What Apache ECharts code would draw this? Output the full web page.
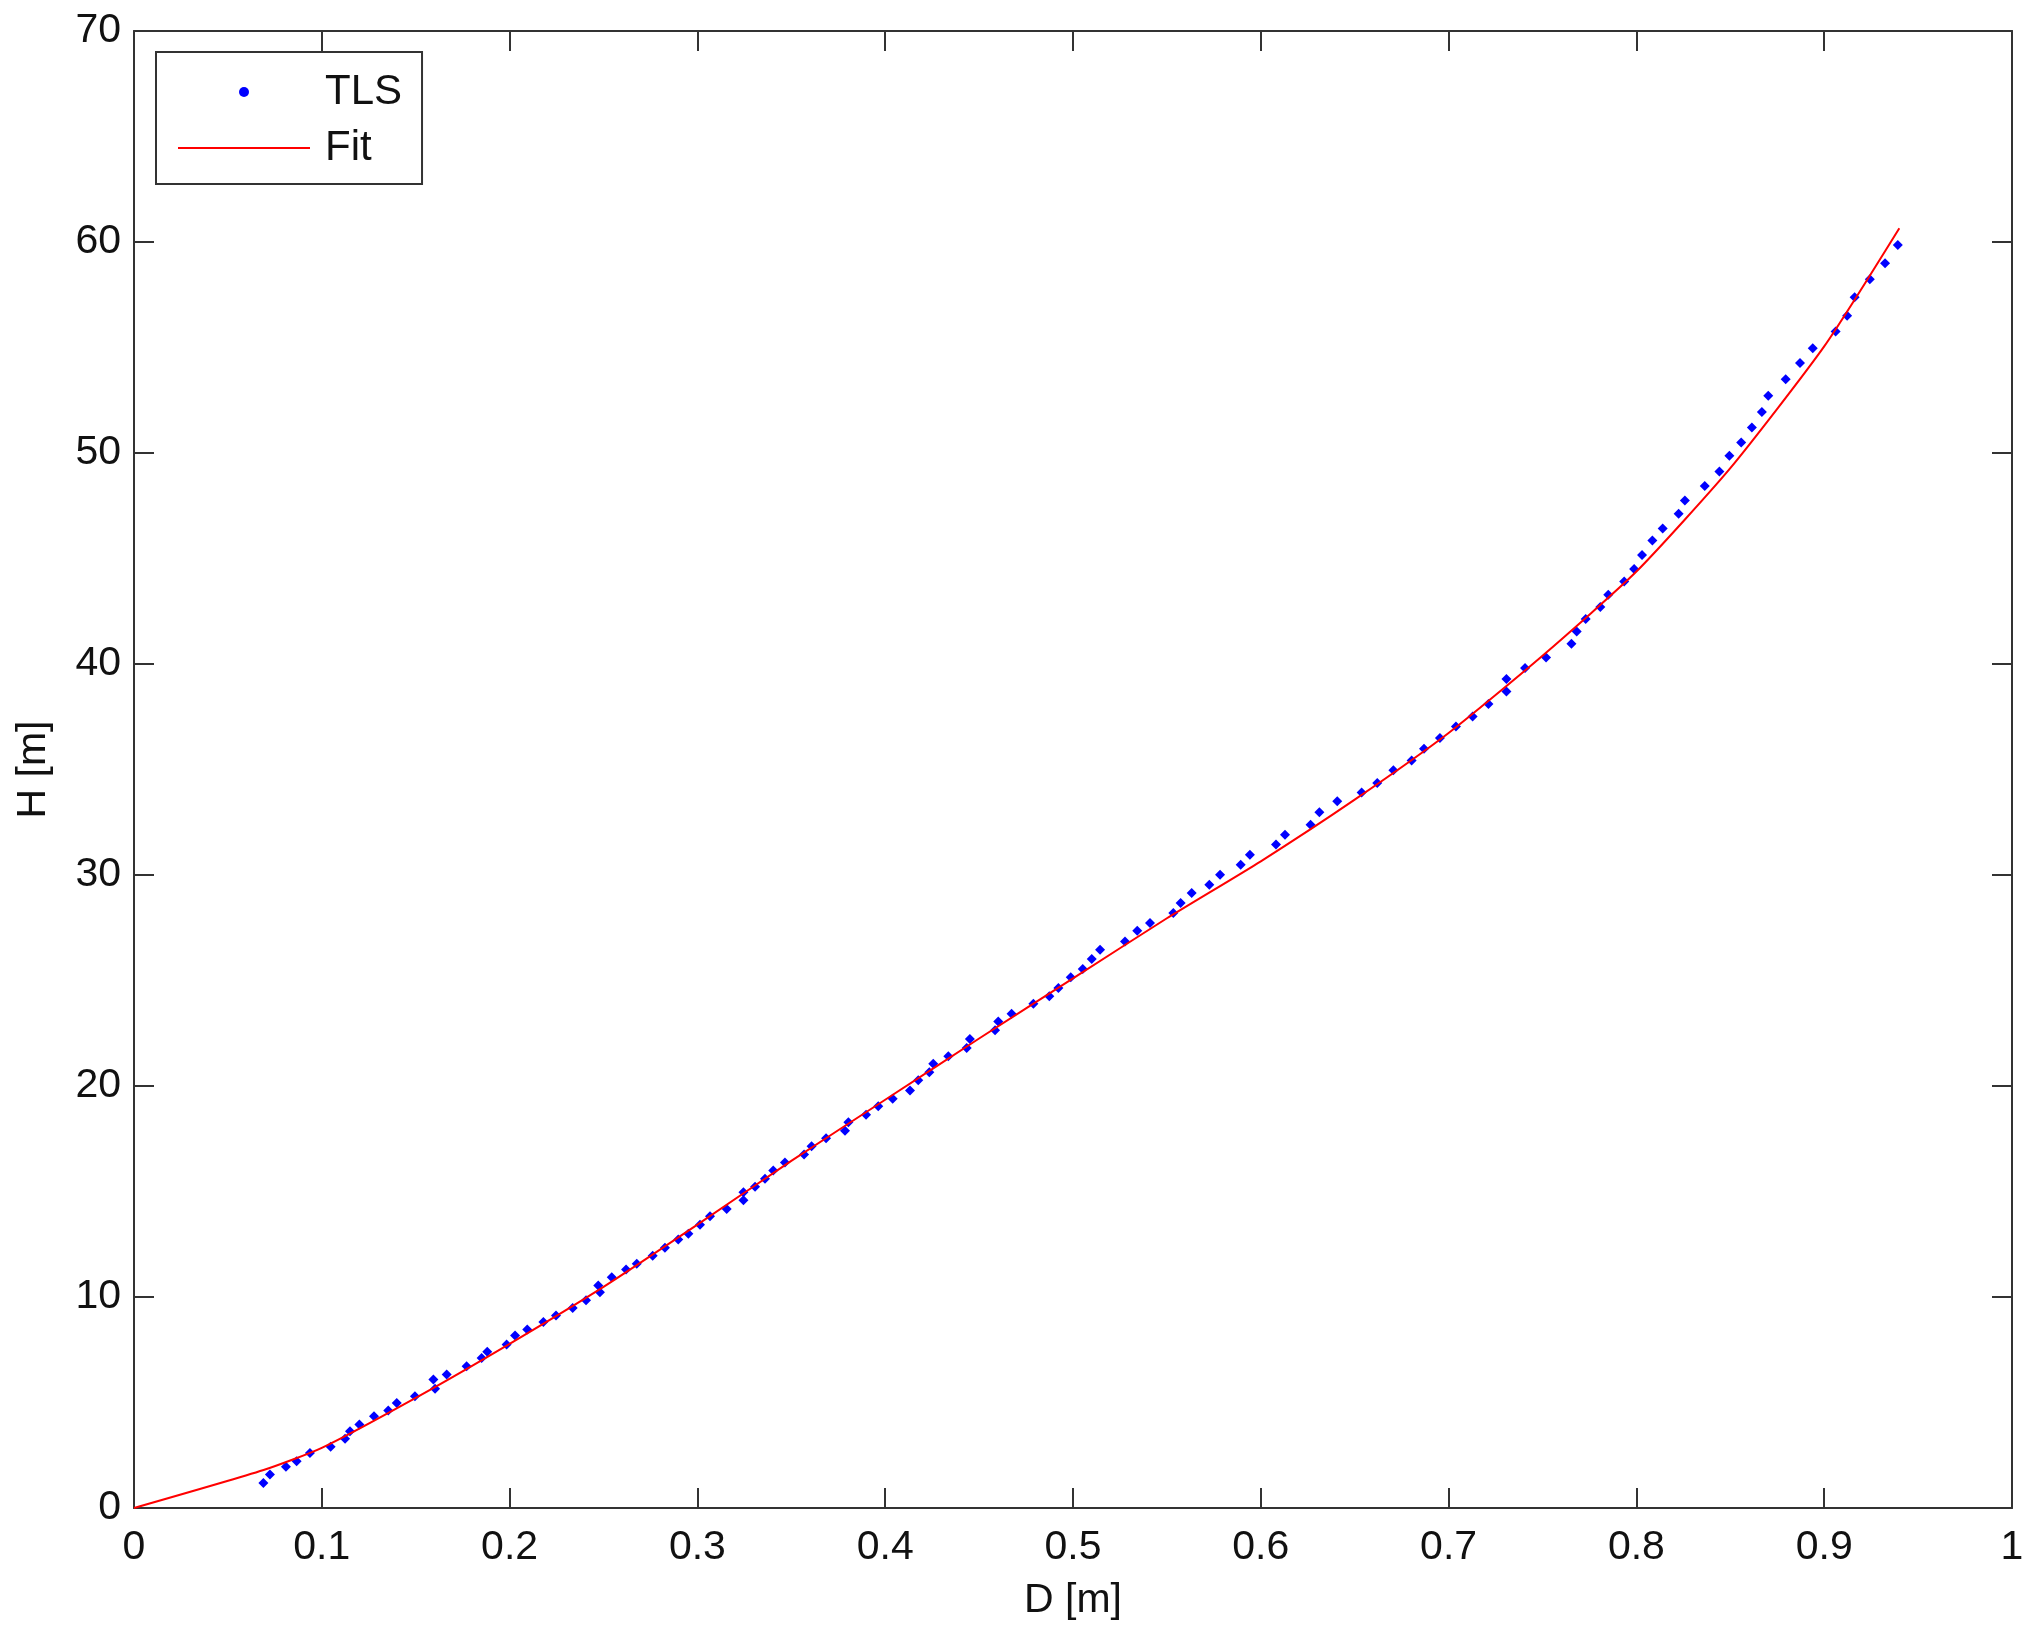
<!DOCTYPE html>
<html>
<head>
<meta charset="utf-8">
<script src="https://cdn.jsdelivr.net/npm/echarts@6/dist/echarts.min.js"></script>
<style>
  html, body { margin: 0; padding: 0; background: #fff; }
  #chart { width: 2034px; height: 1642px; }
</style>
</head>
<body>
<div id="chart"></div>
<script>
// TLS measurements, D [m] / H [m]
const tlsD = [
  0.0689, 0.0724, 0.0809, 0.0866, 0.0937, 0.1047, 0.1124, 0.115, 0.12, 0.1278,
  0.1354, 0.1399, 0.1496, 0.1594, 0.1603, 0.1665, 0.1771, 0.1851, 0.1881, 0.1984,
  0.2029, 0.2094, 0.218, 0.2247, 0.2336, 0.2407, 0.2472, 0.2481, 0.2544, 0.262,
  0.2677, 0.2762, 0.2827, 0.2898, 0.2952, 0.3014,
  0.3067, 0.3156, 0.3245, 0.3245, 0.3307, 0.336, 0.3404, 0.3466, 0.3568, 0.3608,
  0.3685, 0.3786, 0.3804, 0.3898, 0.3963, 0.404, 0.4132, 0.4176, 0.4235, 0.4256,
  0.4336, 0.4434, 0.4451, 0.4585, 0.4602, 0.4673, 0.4789, 0.4874, 0.4922, 0.4988,
  0.5052, 0.51, 0.5144,
  0.5277, 0.5342, 0.541, 0.5534, 0.5573, 0.5632, 0.5726, 0.5783, 0.5893, 0.5942,
  0.6081, 0.6129, 0.6265, 0.6312, 0.6407, 0.6537, 0.662, 0.6706, 0.6803, 0.6869,
  0.6954, 0.7039, 0.7128, 0.7212,
  0.7308, 0.7308, 0.7407, 0.7519, 0.7654, 0.7682, 0.773, 0.7808, 0.785, 0.7935,
  0.7988, 0.803, 0.8085, 0.814, 0.8225, 0.8258, 0.8364, 0.8442, 0.8495, 0.8558,
  0.8615, 0.8668, 0.8702, 0.8795, 0.8871, 0.8939, 0.9061, 0.9122,
  0.9162, 0.9243, 0.9324, 0.9392
];
const tlsH = [
  1.19, 1.59, 1.95, 2.22, 2.61, 2.90, 3.28, 3.64, 3.96, 4.35,
  4.62, 4.98, 5.30, 6.09, 5.65, 6.33, 6.72, 7.11, 7.40, 7.75,
  8.17, 8.46, 8.82, 9.12, 9.48, 9.85, 10.54, 10.23, 10.94, 11.30,
  11.58, 11.96, 12.33, 12.72, 13.0, 13.43,
  13.83, 14.17, 14.58, 14.96, 15.22, 15.6, 16.0, 16.38, 16.75, 17.14,
  17.52, 17.88, 18.28, 18.64, 19.04, 19.39, 19.79, 20.27, 20.65, 21.06,
  21.41, 21.80, 22.23, 22.64, 23.06, 23.43, 23.9, 24.25, 24.65, 25.15,
  25.55, 26.02, 26.46,
  26.85, 27.36, 27.72, 28.2, 28.67, 29.15, 29.54, 30.01, 30.49, 30.96,
  31.44, 31.91, 32.38, 32.97, 33.49, 33.91, 34.36, 34.96, 35.43, 35.98,
  36.49, 37.04, 37.51, 38.1,
  38.7, 39.29, 39.81, 40.31, 40.96, 41.54, 42.13, 42.7, 43.28, 43.91,
  44.5, 45.17, 45.85, 46.42, 47.12, 47.75, 48.44, 49.12, 49.87, 50.5,
  51.21, 51.94, 52.71, 53.5, 54.26, 54.97, 55.76, 56.5,
  57.38, 58.24, 58.99, 59.86
];

// fitted curve
const fitD = [0, 0.069, 0.1, 0.15, 0.2, 0.25, 0.3, 0.35, 0.4, 0.45, 0.5, 0.55, 0.6, 0.65, 0.7, 0.75, 0.8, 0.85, 0.9, 0.94];
const fitH = [0, 1.8, 2.85, 5.22, 7.78, 10.48, 13.43, 16.45, 19.35, 22.25, 25.1, 27.95, 30.65, 33.57, 36.73, 40.39, 44.38, 49.28, 55.05, 60.65];

const chart = echarts.init(document.getElementById('chart'));

const font = 'Liberation Sans, Arial, Helvetica, sans-serif';
const axisColor = '#333333';

const baseX = {
  type: 'value',
  min: 0,
  max: 1,
  interval: 0.1,
  axisLine: { onZero: false, lineStyle: { color: axisColor, width: 2 } },
  axisTick: { inside: true, length: 20, lineStyle: { color: axisColor, width: 2 } },
  splitLine: { show: false }
};
const baseY = {
  type: 'value',
  min: 0,
  max: 70,
  interval: 10,
  axisLine: { onZero: false, lineStyle: { color: axisColor, width: 2 } },
  axisTick: { inside: true, length: 20, lineStyle: { color: axisColor, width: 2 } },
  splitLine: { show: false }
};

const option = {
  backgroundColor: '#ffffff',
  animation: false,
  grid: { left: 134, right: 22, top: 31, bottom: 134 },
  legend: {
    orient: 'vertical',
    left: 156,
    top: 52,
    padding: [19, 20, 15, 22],
    borderColor: axisColor,
    borderWidth: 2,
    itemWidth: 132,
    itemHeight: 10,
    itemGap: 14,
    textStyle: { fontFamily: font, fontSize: 42, lineHeight: 42, color: '#111', padding: [0, 0, 0, 10] },
    data: [
      { name: 'TLS', icon: 'circle' },
      { name: 'Fit', icon: 'path://M0 0H132V2H0Z' }
    ]
  },
  xAxis: [
    Object.assign({}, baseX, {
      position: 'bottom',
      name: 'D [m]',
      nameLocation: 'middle',
      nameGap: 72,
      nameTextStyle: { fontFamily: font, fontSize: 41, color: '#111' },
      axisLabel: { margin: 19, fontFamily: font, fontSize: 41, color: '#111' }
    }),
    Object.assign({}, baseX, {
      position: 'top',
      axisLabel: { show: false }
    })
  ],
  yAxis: [
    Object.assign({}, baseY, {
      position: 'left',
      name: 'H [m]',
      nameLocation: 'middle',
      nameGap: 80,
      nameTextStyle: { fontFamily: font, fontSize: 41, color: '#111' },
      axisLabel: { margin: 13, fontFamily: font, fontSize: 41, color: '#111' }
    }),
    Object.assign({}, baseY, {
      position: 'right',
      axisLabel: { show: false }
    })
  ],
  series: [
    {
      name: 'TLS',
      type: 'scatter',
      symbol: 'diamond',
      symbolSize: 10,
      itemStyle: { color: '#0000ff', opacity: 1 },
      data: tlsD.map((d, i) => [d, tlsH[i]]),
      z: 3
    },
    {
      name: 'Fit',
      type: 'line',
      smooth: 0.2,
      showSymbol: false,
      symbol: 'none',
      lineStyle: { color: '#ff0000', width: 2 },
      itemStyle: { color: '#ff0000' },
      data: fitD.map((d, i) => [d, fitH[i]]),
      z: 4
    }
  ]
};

chart.setOption(option);
</script>
</body>
</html>
